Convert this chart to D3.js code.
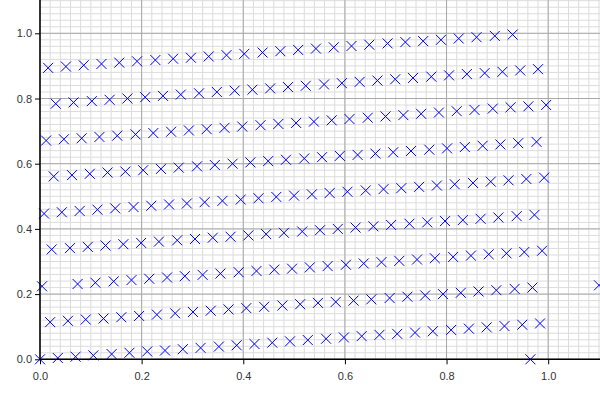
<!DOCTYPE html>
<html>
<head>
<meta charset="utf-8">
<script src="https://cdn.jsdelivr.net/npm/d3@7"></script>
<style>
    body { margin: 0; background: #fff; }
    svg { display: block; font-family: "Liberation Sans", Arial, sans-serif; }
</style>
</head>
<body>
<svg id="chart" width="600" height="400"></svg>
<script>
// point positions, one line per band of the lattice
const xs = [
    0, 0.035, 0.070, 0.105, 0.141, 0.176, 0.211, 0.246, 0.281, 0.316, 0.352, 0.387, 0.422, 0.457, 0.492, 0.527, 0.563, 0.598, 0.633, 0.668, 0.703, 0.738, 0.773, 0.809, 0.844, 0.879, 0.914, 0.949, 0.984,
    0.020, 0.055, 0.090, 0.125, 0.160, 0.195, 0.230, 0.266, 0.301, 0.336, 0.371, 0.406, 0.441, 0.477, 0.512, 0.547, 0.582, 0.617, 0.652, 0.688, 0.723, 0.758, 0.793, 0.828, 0.863, 0.898, 0.934, 0.969,
    0.004, 1.100, 0.074, 0.109, 0.145, 0.180, 0.215, 0.250, 0.285, 0.320, 0.355, 0.391, 0.426, 0.461, 0.496, 0.531, 0.566, 0.602, 0.637, 0.672, 0.707, 0.742, 0.777, 0.813, 0.848, 0.883, 0.918, 0.953, 0.988,
    0.023, 0.059, 0.094, 0.129, 0.164, 0.199, 0.234, 0.270, 0.305, 0.340, 0.375, 0.410, 0.445, 0.480, 0.516, 0.551, 0.586, 0.621, 0.656, 0.691, 0.727, 0.762, 0.797, 0.832, 0.867, 0.902, 0.938, 0.973,
    0.008, 0.043, 0.078, 0.113, 0.148, 0.184, 0.219, 0.254, 0.289, 0.324, 0.359, 0.395, 0.430, 0.465, 0.500, 0.535, 0.570, 0.605, 0.641, 0.676, 0.711, 0.746, 0.781, 0.816, 0.852, 0.887, 0.922, 0.957, 0.992,
    0.027, 0.063, 0.098, 0.133, 0.168, 0.203, 0.238, 0.273, 0.309, 0.344, 0.379, 0.414, 0.449, 0.484, 0.520, 0.555, 0.590, 0.625, 0.660, 0.695, 0.730, 0.766, 0.801, 0.836, 0.871, 0.906, 0.941, 0.977,
    0.012, 0.047, 0.082, 0.117, 0.152, 0.188, 0.223, 0.258, 0.293, 0.328, 0.363, 0.398, 0.434, 0.469, 0.504, 0.539, 0.574, 0.609, 0.645, 0.680, 0.715, 0.750, 0.785, 0.820, 0.855, 0.891, 0.926, 0.961, 0.996,
    0.031, 0.066, 0.102, 0.137, 0.172, 0.207, 0.242, 0.277, 0.313, 0.348, 0.383, 0.418, 0.453, 0.488, 0.523, 0.559, 0.594, 0.629, 0.664, 0.699, 0.734, 0.770, 0.805, 0.840, 0.875, 0.910, 0.945, 0.980,
    0.016, 0.051, 0.086, 0.121, 0.156, 0.191, 0.227, 0.262, 0.297, 0.332, 0.367, 0.402, 0.438, 0.473, 0.508, 0.543, 0.578, 0.613, 0.648, 0.684, 0.719, 0.754, 0.789, 0.824, 0.859, 0.895, 0.930,
    0.965
];
const ys = [
    0.000, 0.004, 0.008, 0.012, 0.016, 0.020, 0.024, 0.027, 0.031, 0.035, 0.039, 0.043, 0.047, 0.051, 0.055, 0.059, 0.063, 0.067, 0.071, 0.075, 0.078, 0.082, 0.086, 0.090, 0.094, 0.098, 0.102, 0.106, 0.110,
    0.114, 0.118, 0.122, 0.125, 0.129, 0.133, 0.137, 0.141, 0.145, 0.149, 0.153, 0.157, 0.161, 0.165, 0.169, 0.173, 0.176, 0.180, 0.184, 0.188, 0.192, 0.196, 0.200, 0.204, 0.208, 0.212, 0.216, 0.220,
    0.224, 0.227, 0.231, 0.235, 0.239, 0.243, 0.247, 0.251, 0.255, 0.259, 0.263, 0.267, 0.271, 0.275, 0.278, 0.282, 0.286, 0.290, 0.294, 0.298, 0.302, 0.306, 0.310, 0.314, 0.318, 0.322, 0.325, 0.329, 0.333,
    0.337, 0.341, 0.345, 0.349, 0.353, 0.357, 0.361, 0.365, 0.369, 0.373, 0.376, 0.380, 0.384, 0.388, 0.392, 0.396, 0.400, 0.404, 0.408, 0.412, 0.416, 0.420, 0.424, 0.427, 0.431, 0.435, 0.439, 0.443,
    0.447, 0.451, 0.455, 0.459, 0.463, 0.467, 0.471, 0.475, 0.478, 0.482, 0.486, 0.490, 0.494, 0.498, 0.502, 0.506, 0.510, 0.514, 0.518, 0.522, 0.525, 0.529, 0.533, 0.537, 0.541, 0.545, 0.549, 0.553, 0.557,
    0.561, 0.565, 0.569, 0.573, 0.576, 0.580, 0.584, 0.588, 0.592, 0.596, 0.600, 0.604, 0.608, 0.612, 0.616, 0.620, 0.624, 0.627, 0.631, 0.635, 0.639, 0.643, 0.647, 0.651, 0.655, 0.659, 0.663, 0.667,
    0.671, 0.675, 0.678, 0.682, 0.686, 0.690, 0.694, 0.698, 0.702, 0.706, 0.710, 0.714, 0.718, 0.722, 0.725, 0.729, 0.733, 0.737, 0.741, 0.745, 0.749, 0.753, 0.757, 0.761, 0.765, 0.769, 0.773, 0.776, 0.780,
    0.784, 0.788, 0.792, 0.796, 0.800, 0.804, 0.808, 0.812, 0.816, 0.820, 0.824, 0.827, 0.831, 0.835, 0.839, 0.843, 0.847, 0.851, 0.855, 0.859, 0.863, 0.867, 0.871, 0.875, 0.878, 0.882, 0.886, 0.890,
    0.894, 0.898, 0.902, 0.906, 0.910, 0.914, 0.918, 0.922, 0.925, 0.929, 0.933, 0.937, 0.941, 0.945, 0.949, 0.953, 0.957, 0.961, 0.965, 0.969, 0.973, 0.976, 0.980, 0.984, 0.988, 0.992, 0.996,
    0.000
];
const tickValues = [0, 0.2, 0.4, 0.6, 0.8, 1.0];

const svg = d3.select("#chart"),
    width = +svg.attr("width"),
    height = +svg.attr("height");

const left = 40, bottom = 359.3;

const x = d3.scaleLinear().domain([0, 1.1]).range([left, 599]);
const y = d3.scaleLinear().domain([0, 1.1]).range([bottom, bottom - 1.1 * 326]);

const minorTicks = d3.range(0, 1.12, 0.02);

// minor grid
const grid = svg.append("g");
grid.selectAll(".vminor")
    .data(minorTicks)
    .enter()
    .append("line")
    .attr("x1", d => x(d)).attr("x2", d => x(d))
    .attr("y1", 0).attr("y2", bottom)
    .attr("stroke", "#dcdcdc")
    .attr("stroke-width", 1);
grid.selectAll(".hminor")
    .data(minorTicks)
    .enter()
    .append("line")
    .attr("y1", d => y(d)).attr("y2", d => y(d))
    .attr("x1", left).attr("x2", width)
    .attr("stroke", "#dcdcdc")
    .attr("stroke-width", 1);

// major grid
grid.selectAll(".vmajor")
    .data(tickValues)
    .enter()
    .append("line")
    .attr("x1", d => x(d)).attr("x2", d => x(d))
    .attr("y1", 0).attr("y2", bottom)
    .attr("stroke", "#a8a8a8")
    .attr("stroke-width", 1);
grid.selectAll(".hmajor")
    .data(tickValues)
    .enter()
    .append("line")
    .attr("y1", d => y(d)).attr("y2", d => y(d))
    .attr("x1", left).attr("x2", width)
    .attr("stroke", "#a8a8a8")
    .attr("stroke-width", 1);

// x markers
const points = xs.map((v, i) => [v, ys[i]]);
const s = 5;
svg.append("g")
    .selectAll("path")
    .data(points)
    .enter()
    .append("path")
    .attr("d", d => {
        const cx = x(d[0]), cy = y(d[1]);
        return "M" + (cx - s) + "," + (cy - s) + "L" + (cx + s) + "," + (cy + s) +
            "M" + (cx - s) + "," + (cy + s) + "L" + (cx + s) + "," + (cy - s);
    })
    .attr("stroke", "#0000ff")
    .attr("stroke-width", 1)
    .attr("fill", "none");

// axes
const xAxis = svg.append("g")
    .attr("transform", "translate(0," + bottom + ")")
    .call(d3.axisBottom(x).tickValues(tickValues).tickFormat(d3.format(".1f")).tickSize(5).tickSizeOuter(0));
const yAxis = svg.append("g")
    .attr("transform", "translate(" + left + ",0)")
    .call(d3.axisLeft(y).tickValues(tickValues).tickFormat(d3.format(".1f")).tickSize(5).tickSizeOuter(0));

xAxis.select(".domain").attr("d", "M" + left + ",0H" + width);
yAxis.select(".domain").attr("d", "M0," + bottom + "V0");

[xAxis, yAxis].forEach(a => {
    a.selectAll(".domain").attr("stroke", "#000").attr("stroke-width", 1.5);
    a.selectAll(".tick line").attr("stroke", "#000");
    a.selectAll("text")
        .attr("fill", "#333")
        .style("font-size", "11px")
        .style("font-family", "'Liberation Sans', Arial, sans-serif");
});
xAxis.selectAll("text").attr("dy", "1.2em");
</script>
</body>
</html>
